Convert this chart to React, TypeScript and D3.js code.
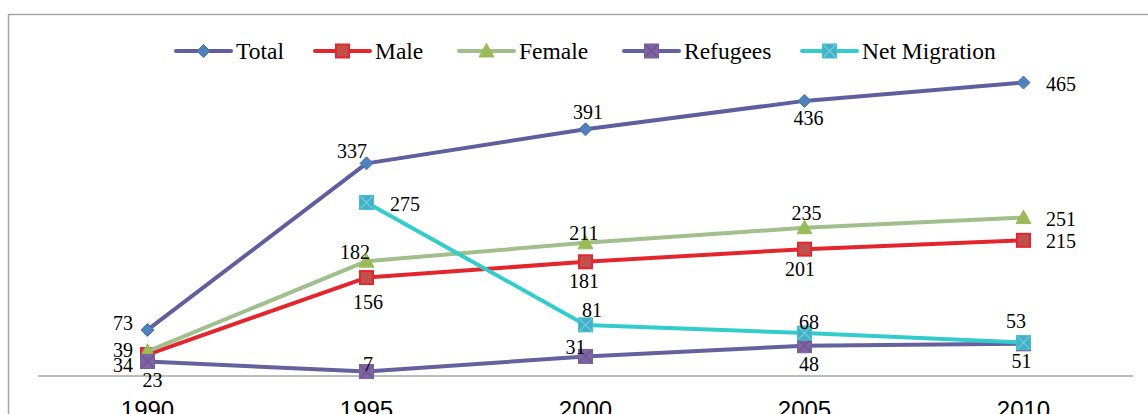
import React from 'react';
import * as d3 from 'd3';

// ---- data ----
const years = ['1990', '1995', '2000', '2005', '2010'];
const total: (number | null)[] = [73, 337, 391, 436, 465];
const male: (number | null)[] = [34, 156, 181, 201, 215];
const female: (number | null)[] = [39, 182, 211, 235, 251];
const refugees: (number | null)[] = [23, 7, 31, 48, 51];
const netMigration: (number | null)[] = [null, 275, 81, 68, 53];
const seriesNames = ['Total', 'Male', 'Female', 'Refugees', 'Net Migration'];

// ---- styles / layout ----
type Anchor = 'start' | 'middle' | 'end';
type Lbl = [Anchor, number, number];
const styles = [
  { line: '#5f5f9f', fill: '#4f81bd', stroke: '#4a72b0', marker: 'diamond' },
  { line: '#e3262e', fill: '#c0504d', stroke: '#e3262e', marker: 'square' },
  { line: '#a0bf8c', fill: '#9bbb59', stroke: '#9bbb59', marker: 'triangle' },
  { line: '#64619f', fill: '#8064a2', stroke: '#7a5f9c', marker: 'xsquare', cross: '#6a5590' },
  { line: '#33cccc', fill: '#4bacc6', stroke: '#3cc6cc', marker: 'xsquare', cross: '#5fd6e0' },
];
const labelLayout: Lbl[][] = [
  [['end', -14.5, -6.5], ['middle', -14.5, -12], ['middle', 2.5, -17], ['middle', 4, 17.5], ['start', 22.5, 1.5]],
  [['end', -14.5, 10.5], ['middle', 1.5, 25], ['middle', -1.5, 19], ['middle', -4.5, 20], ['start', 22.5, 1]],
  [['end', -14.5, -1], ['middle', -11.5, -9], ['middle', -1.5, -10], ['middle', 2, -14.5], ['start', 22.5, 2]],
  [['middle', 5, 18.5], ['middle', 1.5, -7], ['middle', -10, -9], ['middle', 4.5, 18], ['middle', -2, 17]],
  [['middle', 0, 0], ['start', 23.5, 1.5], ['middle', 6.5, -15], ['middle', 4.5, -11], ['middle', -7.5, -21.5]],
];
const legendX = [176, 315, 459, 624, 802];

const W = 1148;
const H = 414;
const serif = '"Liberation Serif", "Times New Roman", serif';
const sans = '"Liberation Sans", Arial, sans-serif';

function Marker({ type, x, y, s }: { type: string; x: number; y: number; s: any }) {
  if (type === 'diamond') {
    const r = 6.5;
    return (
      <path d={`M${x},${y - r}L${x + r},${y}L${x},${y + r}L${x - r},${y}Z`} fill={s.fill} stroke={s.stroke} strokeWidth={1} />
    );
  }
  if (type === 'square') {
    const h = 6.5;
    return <rect x={x - h} y={y - h} width={2 * h} height={2 * h} fill={s.fill} stroke={s.stroke} strokeWidth={2} />;
  }
  if (type === 'triangle') {
    const h = 7.5;
    return (
      <path d={`M${x},${y - h}L${x + h},${y + h * 0.8}L${x - h},${y + h * 0.8}Z`} fill={s.fill} stroke={s.stroke} strokeWidth={1} />
    );
  }
  const h = 7;
  return (
    <g>
      <rect x={x - h} y={y - h} width={2 * h} height={2 * h} fill={s.fill} stroke={s.stroke} strokeWidth={1} />
      <path d={`M${x - h + 1},${y - h + 1}L${x + h - 1},${y + h - 1}M${x + h - 1},${y - h + 1}L${x - h + 1},${y + h - 1}`} stroke={s.cross} strokeWidth={1.2} />
    </g>
  );
}

export default function App() {
  const data = [total, male, female, refugees, netMigration];
  const x0 = d3.scaleBand<string>().domain(years).range([38, 1133]);
  const x = (yr: string) => (x0(yr) as number) + x0.bandwidth() / 2;
  const y = d3.scaleLinear().domain([0, 500]).range([376, 60.5]);
  const axisY = y(0);

  const line = d3
    .line<number | null>()
    .defined((d) => d !== null)
    .x((_d, i) => x(years[i]))
    .y((d) => y(d as number));

  const fsLabel = 20;
  const fsLegend = 23.5;

  return (
    <svg width={W} height={H} style={{ position: 'absolute', left: 0, top: 0, background: '#fff' }}>
      <rect x={0} y={0} width={W} height={H} fill="#fff" />
      <rect x={8.5} y={14.5} width={W + 20} height={H + 20} fill="none" stroke="#a6a6a6" strokeWidth={1.5} />
      {/* axis */}
      <line x1={38} x2={1133} y1={axisY} y2={axisY} stroke="#a6a6a6" strokeWidth={1.5} />
      {years.map((yr) => (
        <text key={yr} x={x(yr)} y={418} textAnchor="middle" fontFamily={sans} fontSize={24} fill="#000">
          {yr}
        </text>
      ))}
      {/* series */}
      {data.map((vals, si) => (
        <g key={seriesNames[si]}>
          <path d={line(vals) || ''} fill="none" stroke={styles[si].line} strokeWidth={4} strokeLinejoin="round" />
          {vals.map((v, i) =>
            v === null ? null : <Marker key={i} type={styles[si].marker} x={x(years[i])} y={y(v)} s={styles[si]} />
          )}
        </g>
      ))}
      {/* labels */}
      {data.map((vals, si) =>
        vals.map((v, i) => {
          if (v === null) return null;
          const [anchor, dx, dy] = labelLayout[si][i];
          return (
            <text
              key={`${si}-${i}`}
              x={x(years[i]) + dx}
              y={y(v) + dy + fsLabel * 0.34}
              textAnchor={anchor}
              fontFamily={serif}
              fontSize={fsLabel}
              fill="#000"
            >
              {v}
            </text>
          );
        })
      )}
      {/* legend */}
      {seriesNames.map((name, si) => {
        const lx = legendX[si];
        const ly = 51;
        return (
          <g key={name}>
            <line x1={lx} x2={lx + 55} y1={ly} y2={ly} stroke={styles[si].line} strokeWidth={4} strokeLinecap="round" />
            <Marker type={styles[si].marker} x={lx + 27.5} y={ly} s={styles[si]} />
            <text x={lx + 60} y={ly + fsLegend * 0.34} fontFamily={serif} fontSize={fsLegend} fill="#000">
              {name}
            </text>
          </g>
        );
      })}
    </svg>
  );
}
